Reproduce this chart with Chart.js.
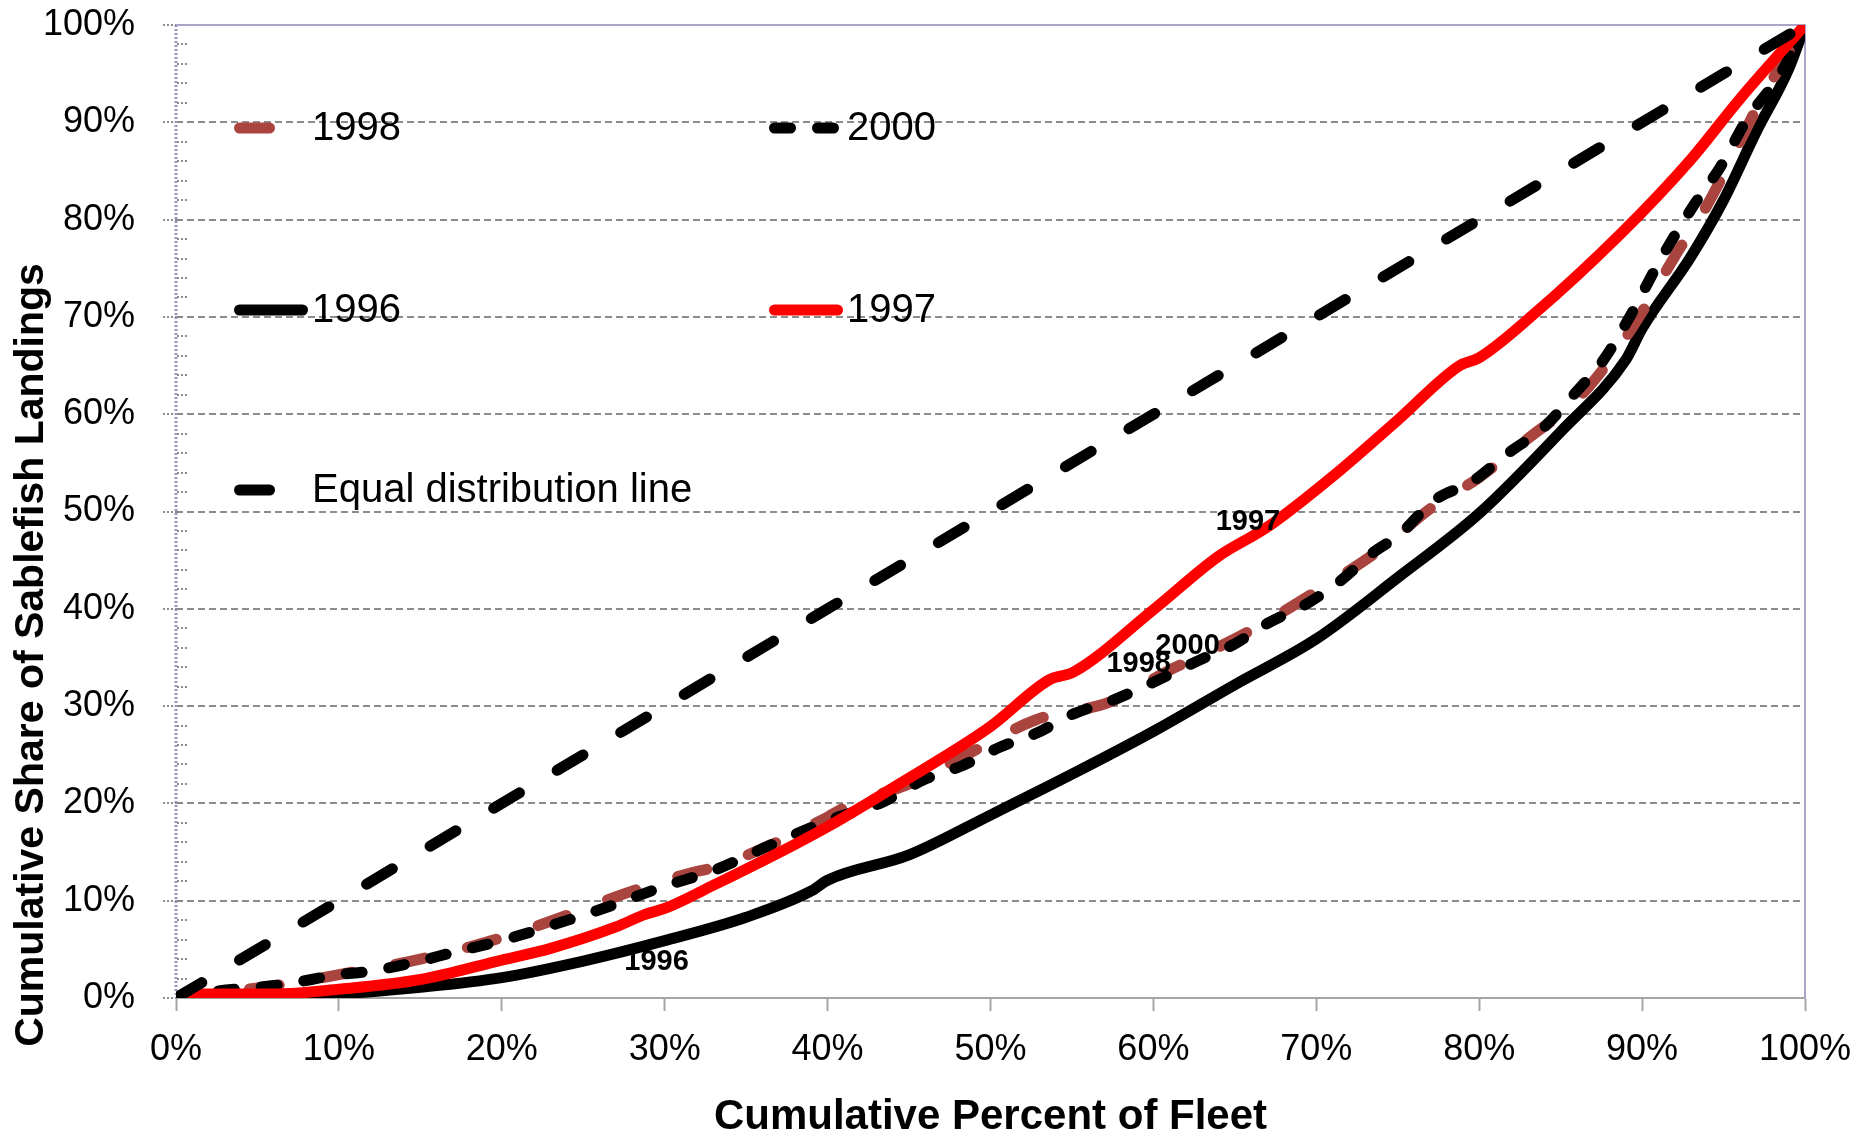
<!DOCTYPE html>
<html><head><meta charset="utf-8">
<script src="https://cdn.jsdelivr.net/npm/chart.js@4.4.1/dist/chart.umd.min.js"></script>
<style>html,body{margin:0;padding:0;background:#fff;}#wrap{width:1860px;height:1138px;}</style>
</head><body><div id="wrap"><canvas id="c" width="1860" height="1138"></canvas></div>
<script>
// ---- data ----
const xTickValues = [0,10,20,30,40,50,60,70,80,90,100];
const yTickValues = [0,10,20,30,40,50,60,70,80,90,100];
const seriesNames = ['1998','2000','1996','1997','Equal distribution line'];

const x1998 = [0,3,7,10,15,20,24,27.5,31.7,33,36.6,40,41.3,45,48.3,52.8,57.3,61,62.8,66,70,74,77,80,83,86,88,90,92,94,96,97.2,100];
const y1998 = [0,0.6,1.5,2.4,4.0,6.2,8.5,10.7,12.9,13.4,15.8,18.6,19.8,22.0,24.8,28.6,30.4,33.7,35.1,37.8,41.8,46.2,50.3,53.5,57.5,61.5,65.5,70.5,76.2,81.5,88.0,92.0,100];

const x2000 = [0,2.5,6.6,10,11.7,15,16.8,20,23.3,26.4,30,33,36.6,40.3,43.2,46,48.3,50.6,52.8,55.1,57.5,59.8,62.8,65,67,69.4,71.5,73.5,75.1,77.2,79.6,81.7,84,85.8,87.6,89.1,91.1,93.1,94.8,96.4,98.5,100];
const y2000 = [0,0.7,1.4,2.4,2.7,3.8,4.6,5.9,7.6,9.3,11.5,13.1,15.8,18.4,20.0,22.5,23.9,25.8,27.2,29.2,30.6,32.3,34.7,36.4,38.5,40.5,42.9,45.8,47.6,51.1,53.1,55.9,58.7,62.0,65.5,69.6,75.8,81.3,85.4,90.2,95.0,100];

const x1996 = [0,5,8,10,15,20,25,30,35,39,40,45,50,55,60,65,70,75,80,85,89,90,93,95,97,99,100];
const y1996 = [0,0,0.2,0.4,1.1,2.1,3.8,5.9,8.3,11.0,12.1,14.7,18.8,23.0,27.4,32.2,36.9,43.2,49.8,58.2,65.6,68.8,76.2,82.0,89.0,95.5,100];

const x1997 = [0,1.5,3,6,10,15,20,23,27,28.8,30,33,38,40,44.4,50,53.6,55.1,60,64,67,71,75,78.8,80,83.3,88.6,93,96,100];
const y1997 = [0,0.4,0.4,0.4,0.9,1.9,3.9,5.1,7.3,8.6,9.2,11.6,15.8,17.6,22.0,27.9,32.7,33.5,39.9,45.4,48.4,53.6,59.4,65.0,65.8,70.2,78.4,86.2,92.4,100];

const xEqual = [0,100];
const yEqual = [0,100];

// inline series labels (data units)
const labelTexts = ['1997','2000','1998','1996'];
const labelX = [65.8,62.1,59.1,29.5];
const labelY = [48.9,36.2,34.3,3.7];

// ---- font choice (condensed face if installed) ----
function hasFont(name){
  const c = document.createElement('canvas').getContext('2d');
  const s = 'Equal distribution line 1234567890%';
  c.font = '40px monospace'; const a = c.measureText(s).width;
  c.font = '40px "' + name + '", monospace'; const b = c.measureText(s).width;
  return Math.abs(a-b) > 1;
}
const NARROW = hasFont('Liberation Sans Narrow');
const FONT = NARROW ? "'Liberation Sans Narrow', 'Liberation Sans', Arial, sans-serif" : "'Liberation Sans', Arial, sans-serif";
const SZ = NARROW ? {tick:44, legend:47, title:50, ytitle:50, label:34} : {tick:36, legend:40, title:42, ytitle:41, label:29};

const pts = (xs, ys) => xs.map((x,i)=>({x:x, y:ys[i]}));

const datasets = [
  {label:seriesNames[0], data:pts(x1998,y1998), borderColor:'#A9443F', borderWidth:11, borderDash:[30,44], order:3},
  {label:seriesNames[1], data:pts(x2000,y2000), borderColor:'#000000', borderWidth:11, borderDash:[16,27], order:2},
  {label:seriesNames[2], data:pts(x1996,y1996), borderColor:'#000000', borderWidth:11, borderDash:[], order:4},
  {label:seriesNames[3], data:pts(x1997,y1997), borderColor:'#FF0000', borderWidth:11, borderDash:[], order:1},
  {label:seriesNames[4], data:pts(xEqual,yEqual), borderColor:'#000000', borderWidth:11, borderDash:[30,44], order:0}
].map(d => Object.assign(d, {pointRadius:0, fill:false, cubicInterpolationMode:'monotone', borderCapStyle:'round', borderJoinStyle:'round'}));

const decor = {
  id:'decor',
  beforeDatasetsDraw(chart){
    const {ctx, chartArea:a, scales:{y}} = chart;
    ctx.save();
    ctx.strokeStyle = '#8C8C8C'; ctx.lineWidth = 2; ctx.setLineDash([2,2]);
    for (let v = 2; v < 100; v += 2) {
      if (v % 10 === 0) continue;
      const py = Math.round(y.getPixelForValue(v));
      ctx.beginPath(); ctx.moveTo(a.left+1, py); ctx.lineTo(a.left+12, py); ctx.stroke();
    }
    ctx.strokeStyle = '#9C95B8'; ctx.lineWidth = 3; ctx.setLineDash([2,2]);
    ctx.beginPath(); ctx.moveTo(a.left, a.top); ctx.lineTo(a.left, a.bottom); ctx.stroke();
    ctx.setLineDash([]); ctx.strokeStyle = '#ABA4C8'; ctx.lineWidth = 2;
    ctx.beginPath(); ctx.moveTo(a.left, a.top); ctx.lineTo(a.right, a.top); ctx.lineTo(a.right, a.bottom); ctx.stroke();
    ctx.restore();
  },
  afterDatasetsDraw(chart){
    const {ctx, chartArea:a, scales:{x,y}} = chart;
    ctx.save();
    ctx.fillStyle = '#000'; ctx.font = 'bold ' + SZ.label + 'px ' + FONT;
    ctx.textAlign = 'center'; ctx.textBaseline = 'middle';
    labelTexts.forEach((t,i)=>ctx.fillText(t, x.getPixelForValue(labelX[i]), y.getPixelForValue(labelY[i])));
    // legend (two columns, three rows inside the plot)
    const cols = [a.left+58, a.left+593];
    const rows = [a.top+103, a.top+285, a.top+465];
    const slots = [[0,0],[1,0],[0,1],[1,1],[0,2]];
    chart.data.datasets.forEach((ds,i)=>{
      const [c,r] = slots[i];
      const x0 = cols[c], py = rows[r], w = ds.borderWidth;
      ctx.strokeStyle = ds.borderColor; ctx.lineWidth = w; ctx.lineCap = 'round';
      ctx.setLineDash(ds.borderDash);
      ctx.beginPath(); ctx.moveTo(x0 + w/2, py); ctx.lineTo(x0 + 74 - w/2, py); ctx.stroke();
      ctx.setLineDash([]);
      ctx.fillStyle = '#000'; ctx.font = SZ.legend + 'px ' + FONT; ctx.textAlign = 'left'; ctx.textBaseline = 'middle';
      ctx.fillText(ds.label, x0 + 78, py + 1);
    });
    ctx.font = 'bold ' + SZ.ytitle + 'px ' + FONT; ctx.textAlign = 'center'; ctx.textBaseline = 'middle';
    ctx.translate(32, 655); ctx.rotate(-Math.PI/2);
    ctx.fillText('Cumulative Share of Sablefish Landings', 0, 0);
    ctx.restore();
  }
};

new Chart(document.getElementById('c'), {
  type:'line',
  data:{datasets},
  options:{
    responsive:false, animation:false,
    layout:{padding:{left:0,right:55,top:25,bottom:0}},
    plugins:{legend:{display:false}, tooltip:{enabled:false}},
    scales:{
      x:{type:'linear', min:0, max:100,
        afterBuildTicks:s=>{s.ticks = xTickValues.map(v=>({value:v}));},
        ticks:{callback:v=>v+'%', font:{family:FONT,size:SZ.tick}, color:'#000', padding:17, maxRotation:0, autoSkip:false},
        grid:{drawOnChartArea:false, drawTicks:true, tickLength:13, tickColor:'#A6A6A6', tickWidth:2},
        border:{display:true, color:'#A6A6A6', width:2},
        title:{display:true, text:'Cumulative Percent of Fleet', color:'#000', font:{family:FONT,size:SZ.title,weight:'bold',lineHeight:1}, padding:{top:0,bottom:0}},
        afterFit:s=>{s.height = 140; s.paddingLeft = 0; s.paddingRight = 0;}
      },
      y:{type:'linear', min:0, max:100,
        afterBuildTicks:s=>{s.ticks = yTickValues.map(v=>({value:v}));},
        ticks:{callback:v=>v+'%', font:{family:FONT,size:SZ.tick}, color:'#000', padding:28, autoSkip:false},
        grid:{color:'#8C8C8C', lineWidth:2, tickLength:13, tickColor:'#8C8C8C', tickWidth:2, tickBorderDash:[2,2]},
        border:{display:false, dash:[7,4]},
        afterFit:s=>{s.width = 176; s.paddingTop = 0; s.paddingBottom = 0;}
      }
    }
  },
  plugins:[decor]
});
</script></body></html>
